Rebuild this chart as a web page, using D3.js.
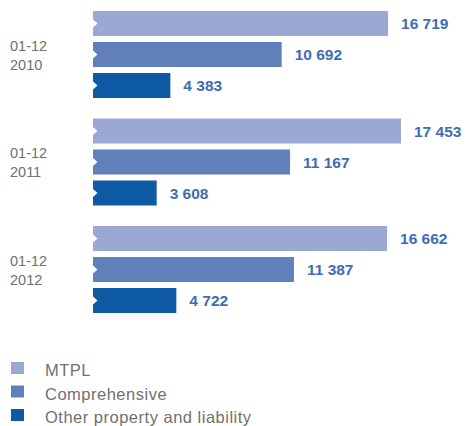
<!DOCTYPE html>
<html>
<head>
<meta charset="utf-8">
<script src="https://cdn.jsdelivr.net/npm/d3@7/dist/d3.min.js"></script>
<style>
  html, body { margin: 0; padding: 0; background: #fff; }
  svg { display: block; }
</style>
</head>
<body>
<svg id="chart" width="467" height="426"></svg>
<script>
// ---- data ----
const periods = ["01-12", "01-12", "01-12"];
const years = ["2010", "2011", "2012"];
const seriesNames = ["MTPL", "Comprehensive", "Other property and liability"];
const mtpl = [16719, 17453, 16662];
const comprehensive = [10692, 11167, 11387];
const otherProperty = [4383, 3608, 4722];
const valueLabels = [
  ["16 719", "10 692", "4 383"],
  ["17 453", "11 167", "3 608"],
  ["16 662", "11 387", "4 722"]
];

// ---- styles ----
const colors = ["#9aa8d3", "#607fbb", "#0f5aa5"];
const labelColor = "#3e6db3";
const grayText = "#707070";

const svg = d3.select("#chart");

const seriesValues = [mtpl, comprehensive, otherProperty];
const rows = [];
years.forEach((y, gi) => {
  seriesNames.forEach((s, si) => {
    rows.push({ year: y, series: s, si, gi, value: seriesValues[si][gi], label: valueLabels[gi][si] });
  });
});

const x = d3.scaleLinear().domain([0, 17000]).range([93, 393]);
const yGroup = d3.scalePoint().domain(years).range([11, 226]);
const yInner = d3.scaleBand().domain(seriesNames).range([0, 87]).paddingInner(6 / 31).paddingOuter(0);
const bw = yInner.bandwidth();

const g = svg.append("g");

g.selectAll("rect.bar").data(rows).join("rect")
  .attr("class", "bar")
  .attr("x", x(0))
  .attr("y", d => yGroup(d.year) + yInner(d.series))
  .attr("width", d => x(d.value) - x(0))
  .attr("height", bw)
  .attr("fill", d => colors[d.si]);

// small white notch at the left edge of each bar
g.selectAll("path.notch").data(rows).join("path")
  .attr("class", "notch")
  .attr("d", d => {
    const cy = yGroup(d.year) + yInner(d.series) + bw / 2;
    const x0 = x(0);
    return `M${x0},${cy - 4}L${x0 + 4.5},${cy}L${x0},${cy + 4}Z`;
  })
  .attr("fill", "#fff");

g.selectAll("text.val").data(rows).join("text")
  .attr("class", "val")
  .attr("x", d => x(d.value) + 13)
  .attr("y", d => yGroup(d.year) + yInner(d.series) + bw / 2)
  .attr("dy", "0.36em")
  .style("font-family", "'Liberation Sans', Arial, sans-serif")
  .style("font-weight", "bold")
  .style("font-size", "15.5px")
  .attr("fill", labelColor)
  .text(d => d.label);

// category labels
const cat = g.selectAll("text.cat").data(years).join("text")
  .attr("class", "cat")
  .style("font-family", "'Liberation Sans', Arial, sans-serif")
  .style("font-size", "14.5px")
  .attr("fill", grayText);
cat.append("tspan")
  .attr("x", 10)
  .attr("y", (d) => yGroup(d) + yInner(seriesNames[1]) + bw / 2 - 4)
  .text((d, i) => periods[i]);
cat.append("tspan")
  .attr("x", 10)
  .attr("y", (d) => yGroup(d) + yInner(seriesNames[1]) + bw / 2 + 15)
  .text(d => d);

// legend
const legY = d3.scalePoint().domain(seriesNames).range([362, 409]);
const leg = svg.append("g").selectAll("g").data(seriesNames).join("g")
  .attr("transform", d => `translate(11,${legY(d)})`);
leg.append("rect")
  .attr("width", 13).attr("height", 12)
  .attr("fill", (d, i) => colors[i]);
leg.append("text")
  .attr("x", 34)
  .attr("y", 14)
  .style("font-family", "'Liberation Sans', Arial, sans-serif")
  .style("font-size", "16.5px")
  .attr("letter-spacing", "0.5px")
  .attr("fill", grayText)
  .text(d => d);
</script>
</body>
</html>
